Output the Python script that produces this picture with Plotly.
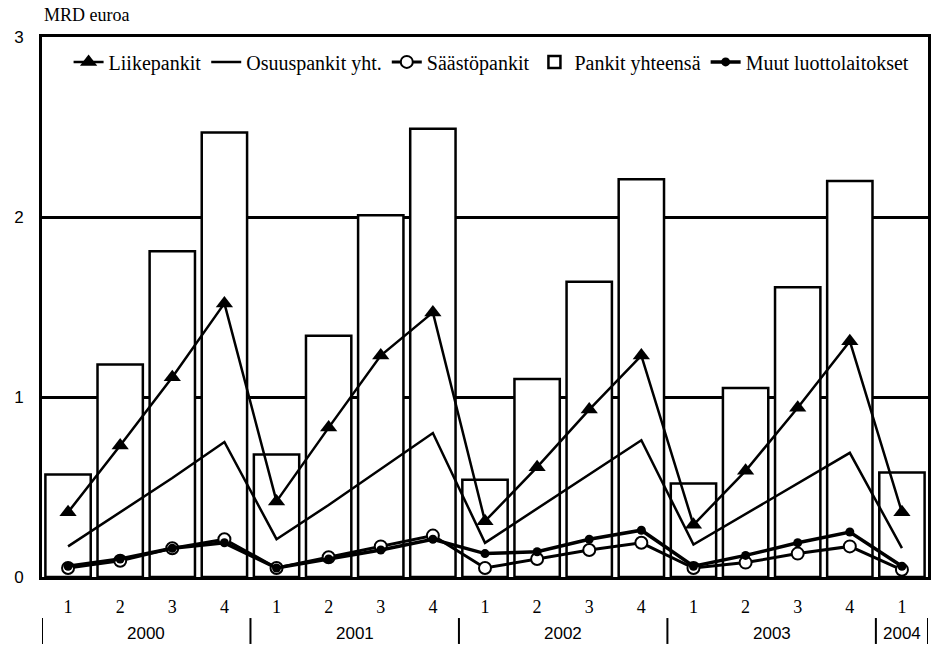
import plotly.graph_objects as go

quarters = ["1", "2", "3", "4", "1", "2", "3", "4", "1", "2", "3", "4", "1", "2", "3", "4", "1"]
years = ["2000", "2001", "2002", "2003", "2004"]
year_quarter_counts = [4, 4, 4, 4, 1]

pankit_yhteensa = [0.57, 1.18, 1.81, 2.47, 0.68, 1.34, 2.01, 2.49, 0.54, 1.10, 1.64, 2.21, 0.52, 1.05, 1.61, 2.20, 0.58]
liikepankit = [0.36, 0.73, 1.11, 1.52, 0.42, 0.83, 1.23, 1.47, 0.31, 0.61, 0.93, 1.23, 0.29, 0.59, 0.94, 1.31, 0.36]
osuuspankit = [0.17, 0.36, 0.55, 0.75, 0.21, 0.40, 0.60, 0.80, 0.19, 0.38, 0.57, 0.76, 0.18, 0.35, 0.52, 0.69, 0.16]
saastopankit = [0.05, 0.09, 0.16, 0.21, 0.05, 0.11, 0.17, 0.23, 0.05, 0.10, 0.15, 0.19, 0.05, 0.08, 0.13, 0.17, 0.04]
muut = [0.06, 0.10, 0.16, 0.19, 0.05, 0.10, 0.15, 0.21, 0.13, 0.14, 0.21, 0.26, 0.06, 0.12, 0.19, 0.25, 0.06]

x = list(range(len(quarters)))
SERIF = "Liberation Serif, Times New Roman, DejaVu Serif, serif"
SANS = "Liberation Sans, Arial, sans-serif"

fig = go.Figure()
fig.add_trace(go.Scatter(x=x, y=liikepankit, name="Liikepankit", mode="lines+markers",
                         line=dict(color="black", width=2.5),
                         marker=dict(symbol="triangle-up", size=15, color="black")))
fig.add_trace(go.Scatter(x=x, y=osuuspankit, name="Osuuspankit yht.", mode="lines",
                         line=dict(color="black", width=2.5)))
fig.add_trace(go.Scatter(x=x, y=saastopankit, name="Säästöpankit", mode="lines+markers",
                         line=dict(color="black", width=3),
                         marker=dict(symbol="circle", size=12, color="white",
                                     line=dict(color="black", width=2))))
fig.add_trace(go.Bar(x=x, y=pankit_yhteensa, name="Pankit yhteensä", width=0.87,
                     marker=dict(color="white", line=dict(color="black", width=2.5))))
fig.add_trace(go.Scatter(x=x, y=muut, name="Muut luottolaitokset", mode="lines+markers",
                         line=dict(color="black", width=3.5),
                         marker=dict(symbol="circle", size=9, color="black")))

shapes = []
annotations = []
start = 0
bounds = [-0.5]
for yr, n in zip(years, year_quarter_counts):
    annotations.append(dict(x=start + (n - 1) / 2, y=-0.104, xref="x", yref="paper",
                            text=yr, showarrow=False, yanchor="middle",
                            font=dict(family=SANS, size=17, color="black")))
    start += n
    bounds.append(start - 0.5)
for b in bounds:
    shapes.append(dict(type="line", xref="x", yref="paper", x0=b, x1=b, y0=-0.076, y1=-0.124,
                       line=dict(color="black", width=2)))

annotations.append(dict(x=0, y=1.041, xref="paper", yref="paper", text="MRD euroa",
                        showarrow=False, xanchor="left", yanchor="middle",
                        font=dict(family=SERIF, size=18, color="black")))

fig.update_layout(
    width=933, height=646,
    margin=dict(l=42, r=2, t=37, b=69),
    paper_bgcolor="white", plot_bgcolor="white",
    showlegend=True,
    legend=dict(orientation="h", x=0.03, y=0.99, xanchor="left", yanchor="top",
                font=dict(family=SERIF, size=20, color="black"), bgcolor="rgba(0,0,0,0)",
                traceorder="normal", itemwidth=30),
    bargap=0.1,
    shapes=shapes,
    annotations=annotations,
    font=dict(family=SERIF, color="black"),
)
fig.update_xaxes(range=[-0.5, 16.5], tickvals=x, ticktext=quarters, showgrid=False,
                 showline=True, linecolor="black", linewidth=3, mirror=True,
                 ticks="", ticklabelstandoff=11, zeroline=False,
                 tickfont=dict(family=SERIF, size=18, color="black"))
fig.update_yaxes(range=[0, 3], tickvals=[0, 1, 2, 3], showgrid=True, gridcolor="black",
                 gridwidth=2.5, showline=True, linecolor="black", linewidth=3, mirror=True,
                 ticks="", ticklabelstandoff=12, zeroline=False,
                 tickfont=dict(family=SANS, size=17, color="black"))

fig.write_html("out.html", config={"displayModeBar": False},
               post_script="document.body.style.margin='0px';")
